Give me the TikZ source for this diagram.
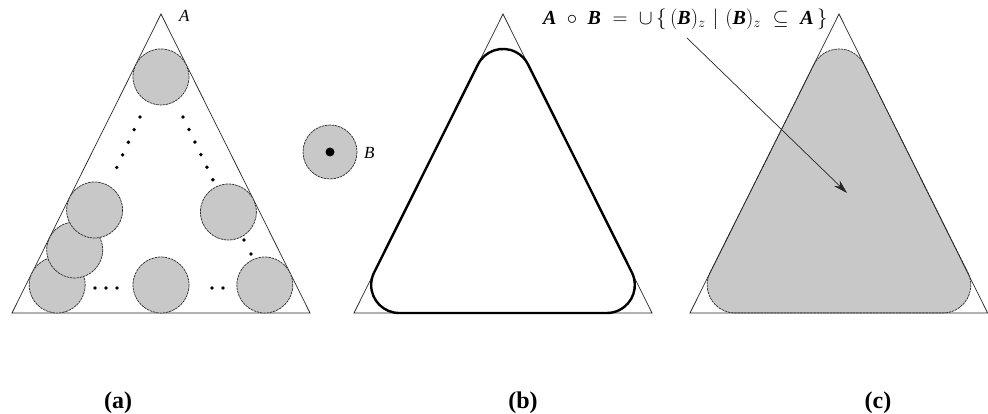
\documentclass[tikz,border=0pt]{standalone}
\usepackage{fontspec}
\setmainfont{Liberation Serif}
\usetikzlibrary{arrows.meta,calc}
\definecolor{fillgray}{HTML}{C8C8C8}
\begin{document}
\begin{tikzpicture}[x=1pt,y=-1pt,
  tri/.style={draw=black!85,line width=0.7pt,line join=miter},
  disk/.style={fill=fillgray,draw=black!80,line width=0.75pt,dash pattern=on 2.5pt off 0.8pt},
  dotrow/.style={line width=3.8pt,line cap=round,dash pattern=on 0pt off #1},
  lbl/.style={font=\bfseries\fontsize{24}{28}\selectfont,anchor=base,inner sep=0pt}]
\useasboundingbox (0,0) rectangle (988,414);
% ---------- (a)
\coordinate (aT) at (161,14); \coordinate (aL) at (12,313); \coordinate (aR) at (310,313);
\draw[tri] (aT) -- (aL) -- (aR) -- cycle;
\node[anchor=west,font=\itshape\fontsize{17}{20}\selectfont,inner sep=0pt] (labA) at (179,16) {A};
\draw[disk] (161,76.95) circle[radius=28];
\draw[disk] (228.4,212) circle[radius=28];
\draw[disk] (161,285) circle[radius=28];
\draw[disk] (264.84,285) circle[radius=28];
\draw[disk] (57.16,285) circle[radius=28];
\draw[disk] (74.7,250) circle[radius=28];
\draw[disk] (94.6,210) circle[radius=28];
\draw[dotrow=13.9pt] (140,117) -- (111,180);
\draw[dotrow=13.9pt] (183,117) -- (213,180);
\draw[dotrow=15.6pt] (244,240) -- (251,254);
\draw[dotrow=11pt] (95,288) -- (128,288);
\draw[dotrow=11pt] (212,288) -- (234,288);
% ---------- structuring element B
\draw[disk] (330,152) circle[radius=27];
\fill[black] (330,152) circle[radius=4.5];
\node[anchor=west,font=\itshape\fontsize{17}{20}\selectfont,inner sep=0pt] (labB) at (364,153) {B};
% ---------- (b)
\coordinate (bT) at (503,14); \coordinate (bL) at (354,313); \coordinate (bR) at (652,313);
\draw[tri] (bT) -- (bL) -- (bR) -- cycle;
\draw[line width=2.4pt,black,line join=round]
  ($(503,76.95)+(206.4:28)$) arc[start angle=206.4,end angle=333.6,radius=28]
  -- ($(606.84,285)+(333.6:28)$) arc[start angle=-26.4,end angle=90,radius=28]
  -- ($(399.16,285)+(90:28)$) arc[start angle=90,end angle=206.4,radius=28] -- cycle;
% ---------- (c)
\fill[fillgray]
  ($(839,76.95)+(206.4:28)$) arc[start angle=206.4,end angle=333.6,radius=28]
  -- ($(942.84,285)+(333.6:28)$) arc[start angle=-26.4,end angle=90,radius=28]
  -- ($(735.16,285)+(90:28)$) arc[start angle=90,end angle=206.4,radius=28] -- cycle;
\draw[black!80,line width=0.75pt,dash pattern=on 2.5pt off 0.8pt]
  ($(839,76.95)+(206.4:28)$) arc[start angle=206.4,end angle=333.6,radius=28]
  -- ($(942.84,285)+(333.6:28)$) arc[start angle=-26.4,end angle=90,radius=28]
  -- ($(735.16,285)+(90:28)$) arc[start angle=90,end angle=206.4,radius=28] -- cycle;
\coordinate (cT) at (839,14); \coordinate (cL) at (690,313); \coordinate (cR) at (987.6,313);
\draw[tri] (cT) -- (cL) -- (cR) -- cycle;
% ---------- formula and arrow
\node[anchor=west,inner sep=0pt,font=\fontsize{20}{23}\selectfont] (form) at (543,19)
  {$\textbf{\textit{A}}\;\circ\;\textbf{\textit{B}}\;=\;\cup\,\{\,(\textbf{\textit{B}})_z\,\,|\,\,(\textbf{\textit{B}})_z\;\subseteq\;\textbf{\textit{A}}\,\}$};
\coordinate (arrS) at (687,38);
\coordinate (arrE) at (847,193);
\draw[black!85,line width=0.7pt,-{Stealth[length=14pt,width=8pt]}] (arrS) -- (arrE);
% ---------- captions
\node[lbl] (capa) at (118,408) {(a)};
\node[lbl] (capb) at (523,408) {(b)};
\node[lbl] (capc) at (878,408) {(c)};
\end{tikzpicture}
\end{document}
